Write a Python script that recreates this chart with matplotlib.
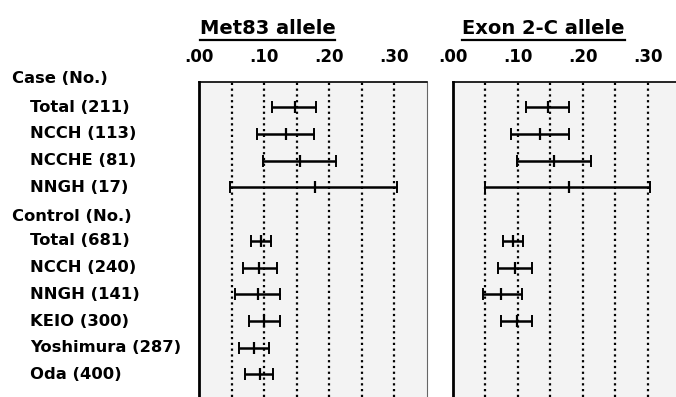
import matplotlib
matplotlib.use("Agg")
import matplotlib.pyplot as plt
import matplotlib.transforms as mtransforms
from matplotlib.lines import Line2D
import numpy as np

plt.rcParams['font.family'] = ['DejaVu Sans']
plt.rcParams['font.weight'] = 'bold'

# rows of the forest plot (header rows handled separately)
case_labels = ["Total (211)", "NCCH (113)", "NCCHE (81)", "NNGH (17)"]
control_labels = ["Total (681)", "NCCH (240)", "NNGH (141)", "KEIO (300)",
                  "Yoshimura (287)", "Oda (400)"]

# allele frequency: point estimate and 95% CI, case rows then control rows
met83_mid = [0.147, 0.134, 0.155, 0.178, 0.095, 0.092, 0.090, 0.100, 0.085, 0.094]
met83_lo = [0.112, 0.089, 0.099, 0.048, 0.080, 0.067, 0.055, 0.077, 0.062, 0.071]
met83_hi = [0.180, 0.177, 0.210, 0.305, 0.111, 0.120, 0.124, 0.125, 0.108, 0.113]

exon2_mid = [0.147, 0.134, 0.156, 0.178, 0.093, 0.096, 0.075, 0.099, np.nan, np.nan]
exon2_lo = [0.113, 0.089, 0.099, 0.049, 0.077, 0.069, 0.046, 0.074, np.nan, np.nan]
exon2_hi = [0.179, 0.178, 0.212, 0.304, 0.108, 0.122, 0.106, 0.122, np.nan, np.nan]

titles = ["Met83 allele", "Exon 2-C allele"]
xticks = [0.0, 0.10, 0.20, 0.30]
xticklabels = [".00", ".10", ".20", ".30"]

W, H = 676, 397
fig = plt.figure(figsize=(W / 100, H / 100), dpi=100)

row_y = list(range(4)) + list(range(5, 11))
top_px, row0_px, step_px = 81.7, 107.0, 26.75
ylim_top = (top_px - row0_px) / step_px
ylim_bot = (H - row0_px) / step_px

axes = []
for i, (left_px, mid, lo, hi) in enumerate([(199, met83_mid, met83_lo, met83_hi),
                                           (452.7, exon2_mid, exon2_lo, exon2_hi)]):
    ax = fig.add_axes([left_px / W, 0, 227.7 / W, 1 - top_px / H])
    ax.set_facecolor("#f3f3f3")
    ax.set_xlim(0, 0.35)
    ax.set_ylim(ylim_bot, ylim_top)
    for gx in [0.05, 0.10, 0.15, 0.20, 0.25, 0.30]:
        ax.axvline(gx, color="black", lw=1.6, ls=(0, (1, 1.6)), zorder=1)
    mid = np.array(mid)
    lo = np.array(lo)
    hi = np.array(hi)
    ok = ~np.isnan(mid)
    y = np.array(row_y)[ok]
    ax.errorbar(mid[ok], y, xerr=[mid[ok] - lo[ok], hi[ok] - mid[ok]], fmt="none",
                ecolor="black", elinewidth=1.8, capsize=4, capthick=1.4, zorder=3)
    ax.plot(mid[ok], y, ls="none", marker="|", ms=9, mew=1.6, color="black", zorder=4)

    ax.xaxis.tick_top()
    ax.set_xticks(xticks)
    ax.set_xticklabels(xticklabels, fontsize=12, fontweight="bold")
    ax.tick_params(axis="x", length=0, pad=11)
    ax.set_yticks([])
    ax.spines["left"].set_linewidth(2)
    ax.spines["top"].set_linewidth(1.2)
    ax.spines["right"].set_linewidth(0.8)
    ax.spines["right"].set_linestyle((0, (1, 1)))
    ax.spines["right"].set_color("#666666")
    ax.spines["bottom"].set_visible(False)
    axes.append(ax)

# row labels
fs = 11.8
tr = mtransforms.blended_transform_factory(fig.transFigure, axes[0].transData)
fig.text(12 / W, -1.08, "Case (No.)", transform=tr, fontsize=fs, va="center")
for lab, yy in zip(case_labels, row_y[:4]):
    fig.text(30 / W, yy, lab, transform=tr, fontsize=fs, va="center")
fig.text(12 / W, 4.1, "Control (No.)", transform=tr, fontsize=fs, va="center")
for lab, yy in zip(control_labels, row_y[4:]):
    fig.text(30 / W, yy, lab, transform=tr, fontsize=fs, va="center")

# underlined panel titles
title_x = [267.5, 543.5]
tts = []
for t, tx in zip(titles, title_x):
    tts.append(fig.text(tx / W, 1 - 29 / H, t, fontsize=14, ha="center", va="center"))
fig.canvas.draw()
rend = fig.canvas.get_renderer()
for t in tts:
    bb = t.get_window_extent(rend)
    yl = bb.y0 - 1.5
    fig.add_artist(Line2D([bb.x0 / W, bb.x1 / W], [yl / H, yl / H], color="black", lw=1.6))

fig.savefig("out.png", dpi=100)
